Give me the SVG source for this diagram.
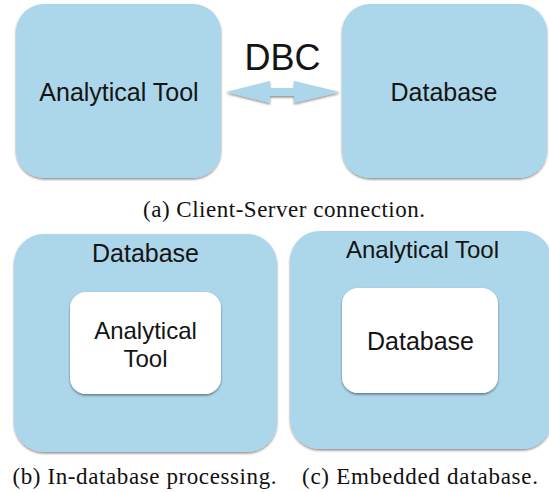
<svg xmlns="http://www.w3.org/2000/svg" width="549" height="492" viewBox="0 0 549 492">
<defs>
<filter id="sh" x="-10%" y="-10%" width="120%" height="125%">
<feDropShadow dx="0" dy="1.5" stdDeviation="1.2" flood-color="#000" flood-opacity="0.45"/>
</filter>
</defs>
<style>
.blue{fill:#acd6e9;filter:url(#sh)}
.white{fill:#ffffff;filter:url(#sh)}
.lbl{font-family:"Liberation Sans",Arial,sans-serif;fill:#141414;text-anchor:middle}
.cap{font-family:"Liberation Serif","Times New Roman",serif;fill:#111;font-size:23px;text-anchor:middle}
</style>
<rect width="549" height="492" fill="#ffffff"/>

<g id="a-tool">
<rect class="blue" x="16" y="4" width="205" height="174" rx="28"/>
<text class="lbl" x="119" y="101" font-size="25">Analytical Tool</text>
</g>
<g id="a-db">
<rect class="blue" x="342" y="4" width="205" height="174" rx="28"/>
<text class="lbl" x="444" y="101" font-size="25">Database</text>
</g>
<g id="connectors">
<polygon class="blue" points="226,92 270,81 270,88 294,88 294,81 340,92 294,103 294,96 270,96 270,103"/>
<text class="lbl" x="282.5" y="70" font-size="36">DBC</text>
</g>
<text class="cap" x="284" y="217" textLength="282" lengthAdjust="spacing">(a) Client-Server connection.</text>

<g id="b-db">
<rect class="blue" x="14" y="234" width="263" height="218" rx="30"/>
<text class="lbl" x="145.5" y="262" font-size="25">Database</text>
</g>
<g id="b-tool">
<rect class="white" x="70" y="292" width="151" height="102" rx="16"/>
<text class="lbl" x="145.5" y="339" font-size="24">Analytical</text>
<text class="lbl" x="145.5" y="367" font-size="24">Tool</text>
</g>
<text class="cap" x="144.5" y="484" textLength="264" lengthAdjust="spacing">(b) In-database processing.</text>

<g id="c-tool">
<rect class="blue" x="290" y="231" width="262" height="218" rx="30"/>
<text class="lbl" x="422.5" y="258" font-size="24">Analytical Tool</text>
</g>
<g id="c-db">
<rect class="white" x="342" y="288" width="156" height="105" rx="16"/>
<text class="lbl" x="420.5" y="350" font-size="25">Database</text>
</g>
<text class="cap" x="420" y="484" textLength="236" lengthAdjust="spacing">(c) Embedded database.</text>
</svg>
